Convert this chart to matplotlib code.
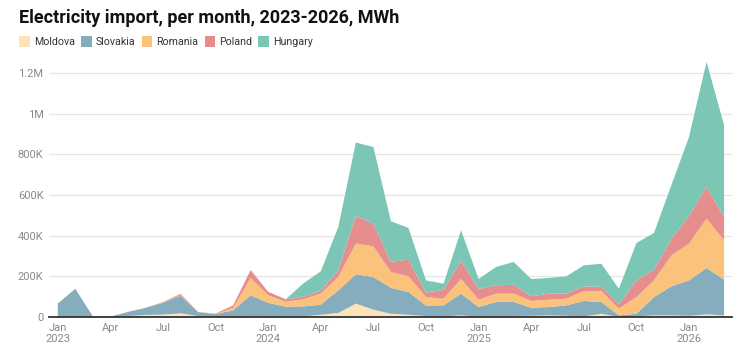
import numpy as np
import matplotlib.pyplot as plt
from matplotlib.patches import Patch

plt.rcParams['font.family'] = ['Roboto', 'DejaVu Sans']

# months Jan 2023 .. Mar 2026, values in thousand MWh
months = list(range(39))
moldova = [0, 0, 0, 0, 5, 10, 12, 18, 5, 3, 3, 5,
           5, 3, 3, 11, 20, 66, 36, 16, 11, 5, 3, 8,
           2, 3, 5, 6, 8, 6, 3, 16, 0, 3, 8, 8,
           6, 13, 8]
slovakia_top = [66, 139, 3, 2, 25, 45, 70, 105, 24, 14, 33, 107,
                70, 51, 52, 61, 131, 210, 197, 144, 123, 57, 57, 115,
                49, 74, 74, 46, 49, 57, 79, 74, 8, 16, 98, 151,
                180, 241, 184]
romania_top = [66, 139, 3, 2, 25, 45, 72, 107, 24, 15, 45, 192,
               107, 75, 87, 115, 197, 361, 348, 221, 200, 98, 90, 187,
               85, 115, 115, 79, 85, 90, 128, 128, 41, 98, 180, 303,
               361, 484, 377]
poland_top = [66, 139, 3, 2, 25, 45, 74, 114, 25, 17, 57, 231,
              124, 87, 100, 128, 230, 497, 459, 271, 282, 120, 134, 276,
              138, 156, 159, 102, 115, 115, 151, 148, 62, 180, 233, 385,
              497, 640, 492]
hungary_top = [66, 139, 3, 2, 25, 45, 74, 114, 25, 17, 57, 231,
               124, 87, 165, 225, 443, 858, 836, 471, 438, 180, 164, 426,
               187, 246, 271, 187, 192, 200, 254, 262, 139, 364, 413, 650,
               886, 1255, 943]

names = ['Moldova', 'Slovakia', 'Romania', 'Poland', 'Hungary']
colors = ['#fde3b8', '#86adbd', '#fbc27b', '#e68e8d', '#7cc6b6']

tops = np.array([moldova, slovakia_top, romania_top, poland_top, hungary_top]) * 1000.0
layers = np.diff(np.vstack([np.zeros(len(months)), tops]), axis=0)

tick_pos = list(range(0, 39, 3))
tick_labels = ['Jan\n2023', 'Apr', 'Jul', 'Oct', 'Jan\n2024', 'Apr', 'Jul', 'Oct',
               'Jan\n2025', 'Apr', 'Jul', 'Oct', 'Jan\n2026']
y_ticks = [0, 200000, 400000, 600000, 800000, 1000000, 1200000]
y_labels = ['0', '200K', '400K', '600K', '800K', '1M', '1.2M']

fig = plt.figure(figsize=(7.48, 3.6), dpi=100)
ax = fig.add_axes([0.0655, 0.1194, 0.9131, 0.723])

ax.stackplot(months, layers, colors=colors, lw=0)

ax.set_xlim(-0.5, 38.45)
ax.set_ylim(0, 1.28e6)
ax.set_yticks(y_ticks)
ax.set_yticklabels(y_labels)
ax.set_xticks(tick_pos)
ax.set_xticklabels(tick_labels)
ax.tick_params(length=0, labelsize=8, labelcolor='#8a8a8a')
ax.tick_params(axis='y', pad=4)
ax.tick_params(axis='x', pad=4)
for lab in ax.get_yticklabels():
    lab.set_horizontalalignment('right')

ax.grid(axis='y', color='#e6e6e6', lw=0.9)
ax.set_axisbelow(True)
for spine in ('top', 'right', 'left'):
    ax.spines[spine].set_visible(False)
ax.spines['bottom'].set_color('#333333')
ax.spines['bottom'].set_linewidth(1.3)
ax.spines['bottom'].set_zorder(5)

fig.text(0.026, 0.976, 'Electricity import, per month, 2023-2026, MWh',
         fontsize=13, fontweight='bold', color='#111111', va='top')

handles = [Patch(facecolor=c, edgecolor='none', label=n) for n, c in zip(names, colors)]
fig.legend(handles=handles, loc='upper left', bbox_to_anchor=(0.026, 0.9),
           ncol=5, frameon=False, fontsize=7.7, handlelength=1.0, handleheight=1.15,
           handletextpad=0.35, columnspacing=0.6, labelcolor='#333333',
           borderaxespad=0, borderpad=0)

fig.savefig('out.png', dpi=100)
